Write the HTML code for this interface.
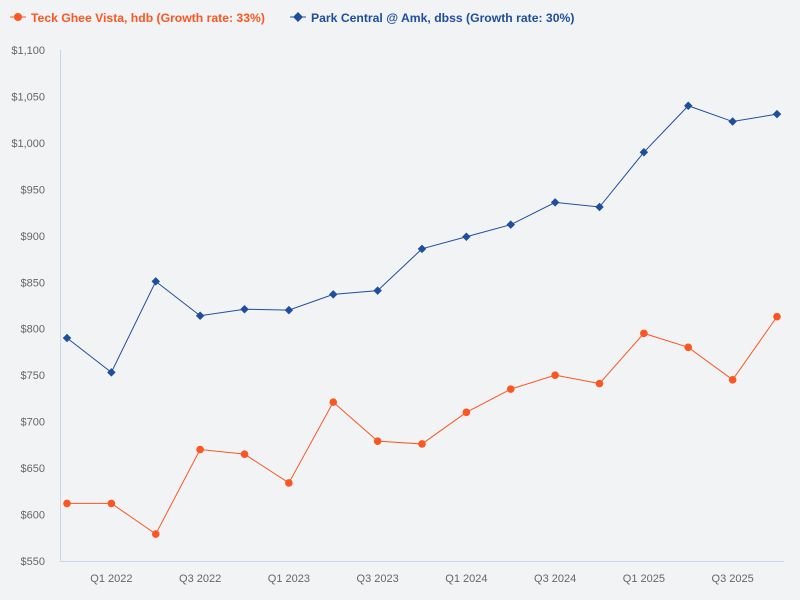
<!DOCTYPE html>
<html><head><meta charset="utf-8"><style>
body{margin:0;background:#f2f3f5;font-family:"Liberation Sans",sans-serif;}
svg{display:block}
</style></head><body>
<svg id="chart" width="800" height="600">
<rect width="800" height="600" fill="#f2f3f5"/>
<g>
 <g>
  <line x1="10" y1="17" x2="26" y2="17" stroke="#fc5622" stroke-width="1"/>
  <circle cx="18" cy="17" r="4" fill="#fc5622"/>
  <text x="31" y="22" font-size="12.2" font-weight="bold" fill="#fc5622">Teck Ghee Vista, hdb (Growth rate: 33%)</text>
 </g>
 <g>
  <line x1="290" y1="17" x2="306" y2="17" stroke="#1f4e9e" stroke-width="1"/>
  <rect x="294.5" y="13.5" width="7" height="7" fill="#1f4e9e" transform="rotate(45 298 17)"/>
  <text x="311" y="22" font-size="12.2" font-weight="bold" fill="#1f4e9e">Park Central @ Amk, dbss (Growth rate: 30%)</text>
 </g>
</g>
<g id="grid"></g>
<g id="axes"></g>
<g id="series"></g>
</svg>
<script>
const categories=["Q4 2021","Q1 2022","Q2 2022","Q3 2022","Q4 2022","Q1 2023","Q2 2023","Q3 2023","Q4 2023","Q1 2024","Q2 2024","Q3 2024","Q4 2024","Q1 2025","Q2 2025","Q3 2025","Q4 2025"];
const tealValues=[612,612,579,670,665,634,721,679,676,710,735,750,741,795,780,745,813];
const parkValues=[790,753,851,814,821,820,837,841,886,899,912,936,931,990,1040,1023,1031];
const yTicks=[550,600,650,700,750,800,850,900,950,1000,1050,1100];
const xLabelIdx=[1,3,5,7,9,11,13,15];
const NS="http://www.w3.org/2000/svg";
const x0=67,x1=777,yTop=50,yBot=561,vMin=550,vMax=1100;
function xs(i){return x0+(x1-x0)*i/(categories.length-1);}
function ys(v){return yBot-(v-vMin)/(vMax-vMin)*(yBot-yTop);}
function mk(tag,attrs,parent){const e=document.createElementNS(NS,tag);for(const k in attrs)e.setAttribute(k,attrs[k]);parent.appendChild(e);return e;}
const axes=document.getElementById('axes');
yTicks.forEach(v=>{
 const t=mk('text',{x:45,y:ys(v)+4,'text-anchor':'end','font-size':11,fill:'#666'},axes);
 t.textContent='$'+v.toLocaleString('en-US');
 
 
});
const yl=mk('line',{x1:60.5,y1:yTop,x2:60.5,y2:yBot,stroke:'#c8d6e6'},axes);


const xl=mk('line',{x1:60,y1:yBot+0.5,x2:784,y2:yBot+0.5,stroke:'#c8d6e6'},axes);


xLabelIdx.forEach(i=>{
 const t=mk('text',{x:xs(i),y:582,'text-anchor':'middle','font-size':11,fill:'#666'},axes);
 t.textContent=categories[i];
 
 
});
const series=document.getElementById('series');
function draw(vals,color,name,marker){
 const g=mk('g',{},series);
 
 
 const p=mk('polyline',{points:vals.map((v,i)=>xs(i)+','+ys(v)).join(' '),fill:'none',stroke:color,'stroke-width':1},g);
 
 
 vals.forEach((v,i)=>{
  let m;
  if(marker==='circle') m=mk('circle',{cx:xs(i),cy:ys(v),r:3.8,fill:color},g);
  else m=mk('rect',{x:xs(i)-3,y:ys(v)-3,width:6,height:6,fill:color,transform:'rotate(45 '+xs(i)+' '+ys(v)+')'},g);
  
  
 });
}
draw(tealValues,'#fc5622','teck-ghee','circle');
draw(parkValues,'#1f4e9e','park-central','diamond');
</script>
</body></html>
